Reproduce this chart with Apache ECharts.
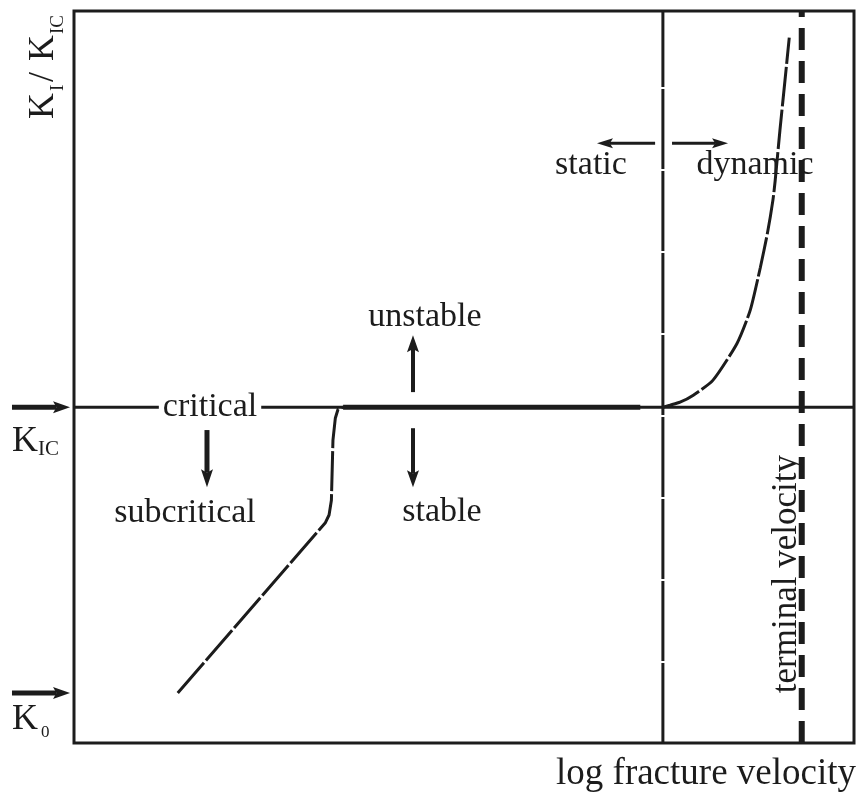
<!DOCTYPE html>
<html>
<head>
<meta charset="utf-8">
<script src="https://cdn.jsdelivr.net/npm/echarts@6/dist/echarts.min.js"></script>
<style>
  html, body { margin: 0; padding: 0; background: #fff; }
  #chart { width: 861px; height: 793px; }
</style>
</head>
<body>
<div id="chart"></div>
<script>
// Axis extents: log fracture velocity (arbitrary units) and K_I / K_IC
const xRange = [0, 100];
const yRange = [0, 2.18];

// Reference levels
const kIC = 1.0;            // critical stress intensity
const k0 = 0.149;           // threshold K_0
const vStaticDynamic = 75.5; // boundary between static and dynamic growth
const vTerminal = 93.3;      // terminal crack velocity

// Crack growth curve, split into its three regimes
const subcriticalBranch = [
  [13.3, 0.149], [32.2, 0.655], [32.7, 0.679], [33.0, 0.723],
  [33.2, 0.902], [33.5, 0.967], [33.85, 0.994], [34.5, 1.0]
];
const stablePlateau = [[34.5, 1.0], [72.6, 1.0]];
const dynamicBranch = [
  [75.5, 1.0], [76.4, 1.006], [77.7, 1.015], [79.4, 1.036], [81.9, 1.080],
  [85.0, 1.190], [86.7, 1.289], [88.0, 1.417], [88.9, 1.518], [89.6, 1.616],
  [89.9, 1.676], [90.5, 1.824], [91.15, 1.973], [91.7, 2.101]
];

const INK = '#1c1c1c';
const SERIF = '"Liberation Serif", "DejaVu Serif", serif';

const chart = echarts.init(document.getElementById('chart'), null, { renderer: 'canvas' });

function lineSeries(data, width, type, z) {
  return {
    type: 'line',
    data: data,
    symbol: 'none',
    silent: true,
    animation: false,
    z: z || 2,
    lineStyle: { color: INK, width: width, type: type, cap: 'butt' }
  };
}

chart.setOption({
  animation: false,
  backgroundColor: '#fff',
  grid: {
    left: 74, right: 7, top: 11, bottom: 50,
    show: true, borderColor: INK, borderWidth: 3, backgroundColor: 'transparent'
  },
  xAxis: { type: 'value', min: xRange[0], max: xRange[1], show: false },
  yAxis: { type: 'value', min: yRange[0], max: yRange[1], show: false },
  series: [
    // K_IC level across the whole plot
    lineSeries([[xRange[0], kIC], [xRange[1], kIC]], 3, 'solid', 2),
    // static / dynamic boundary
    lineSeries([[vStaticDynamic, yRange[0]], [vStaticDynamic, yRange[1]]], 3, [80, 2], 2),
    // terminal velocity
    lineSeries([[vTerminal, yRange[0]], [vTerminal, yRange[1]]], 6, [22, 11], 2),
    // crack growth curve
    lineSeries(subcriticalBranch, 3, [40, 3], 3),
    lineSeries(stablePlateau, 5, 'solid', 3),
    Object.assign(lineSeries(dynamicBranch, 3, [40, 3], 3), { smooth: 0.2 })
  ]
});

// ---- annotations placed in data coordinates ----
function px(x, y) { return chart.convertToPixel({ gridIndex: 0 }, [x, y]); }

function arrow(from, to, width, headLen, headW) {
  const a = px(from[0], from[1]);
  const b = px(to[0], to[1]);
  const dx = b[0] - a[0], dy = b[1] - a[1];
  const len = Math.sqrt(dx * dx + dy * dy);
  const ux = dx / len, uy = dy / len;
  const nx = -uy, ny = ux;
  const baseX = b[0] - ux * headLen, baseY = b[1] - uy * headLen;
  const notchX = b[0] - ux * headLen * 0.8, notchY = b[1] - uy * headLen * 0.8;
  return [
    {
      type: 'line', z: 100, silent: true,
      shape: { x1: a[0], y1: a[1], x2: notchX, y2: notchY },
      style: { stroke: INK, lineWidth: width }
    },
    {
      type: 'polygon', z: 100, silent: true,
      shape: { points: [
        [b[0], b[1]],
        [baseX + nx * headW / 2, baseY + ny * headW / 2],
        [notchX, notchY],
        [baseX - nx * headW / 2, baseY - ny * headW / 2]
      ] },
      style: { fill: INK }
    }
  ];
}

function label(text, x, y, size, extra) {
  const p = px(x, y);
  return Object.assign({
    type: 'text', z: 101, silent: true, x: p[0], y: p[1],
    style: Object.assign({
      text: text, fontSize: size, fontFamily: SERIF, fill: INK,
      align: 'center', verticalAlign: 'middle'
    }, (extra && extra.style) || {})
  }, extra ? { rotation: extra.rotation || 0 } : {});
}

function build() {
  const g = [];
  // regime labels
  g.push(label('critical', 17.44, kIC, 34, { style: { backgroundColor: '#fff', padding: [0, 4] } }));
  g.push(label('subcritical', 14.23, 0.685, 34));
  g.push(label('unstable', 45.0, 1.268, 34));
  g.push(label('stable', 47.18, 0.688, 34));
  g.push(label('static', 66.28, 1.72, 34));
  g.push(label('dynamic', 87.31, 1.72, 34));
  g.push(label('terminal velocity', 91.41, 0.503, 35, { rotation: Math.PI / 2 }));

  // direction arrows
  g.push(...arrow([17.05, 0.932], [17.05, 0.762], 5, 18, 12));
  g.push(...arrow([43.46, 1.045], [43.46, 1.214], 4, 17, 12));
  g.push(...arrow([43.46, 0.9375], [43.46, 0.762], 4, 17, 12));
  g.push(...arrow([74.5, 1.786], [67.05, 1.786], 3, 16, 10));
  g.push(...arrow([76.67, 1.786], [83.85, 1.786], 3, 16, 10));
  // level markers outside the plot
  g.push(...arrow([-7.95, kIC], [-0.51, kIC], 5, 17, 12));
  g.push(...arrow([-7.95, k0], [-0.51, k0], 5, 17, 12));

  // K_IC and K_0 labels on the left
  const pIC = px(-7.95, kIC);
  g.push({ type: 'text', z: 101, silent: true, x: pIC[0], y: pIC[1] + 34,
    style: { text: 'K', fontSize: 36, fontFamily: SERIF, fill: INK, align: 'left', verticalAlign: 'middle' } });
  g.push({ type: 'text', z: 101, silent: true, x: pIC[0] + 26, y: pIC[1] + 42,
    style: { text: 'IC', fontSize: 21, fontFamily: SERIF, fill: INK, align: 'left', verticalAlign: 'middle' } });
  const p0 = px(-7.95, k0);
  g.push({ type: 'text', z: 101, silent: true, x: p0[0], y: p0[1] + 27,
    style: { text: 'K', fontSize: 36, fontFamily: SERIF, fill: INK, align: 'left', verticalAlign: 'middle' } });
  g.push({ type: 'text', z: 101, silent: true, x: p0[0] + 29, y: p0[1] + 40,
    style: { text: '0', fontSize: 17, fontFamily: SERIF, fill: INK, align: 'left', verticalAlign: 'middle' } });

  // x-axis title
  const pEnd = px(xRange[1], yRange[0]);
  g.push({ type: 'text', z: 101, silent: true, x: pEnd[0] + 2, y: pEnd[1] + 31,
    style: { text: 'log fracture velocity', fontSize: 37, fontFamily: SERIF, fill: INK,
      align: 'right', verticalAlign: 'middle' } });

  // y-axis title K_I / K_IC, reading upwards
  const main = { fontSize: 36, fontFamily: SERIF, fill: INK, align: 'left', verticalAlign: 'middle' };
  const sub = { fontSize: 19, fontFamily: SERIF, fill: INK, align: 'left', verticalAlign: 'middle' };
  g.push({
    type: 'group', x: 44, y: 121, rotation: Math.PI / 2, z: 101, silent: true,
    children: [
      { type: 'text', x: 2, y: 0, style: Object.assign({ text: 'K' }, main) },
      { type: 'text', x: 30, y: 14, style: Object.assign({ text: 'I' }, sub) },
      { type: 'text', x: 39, y: 0, style: Object.assign({ text: '/', fontSize: 40 }, main) },
      { type: 'text', x: 60, y: 0, style: Object.assign({ text: 'K' }, main) },
      { type: 'text', x: 87, y: 14, style: Object.assign({ text: 'IC' }, sub) }
    ]
  });
  chart.setOption({ graphic: g });
}
build();
</script>
</body>
</html>
